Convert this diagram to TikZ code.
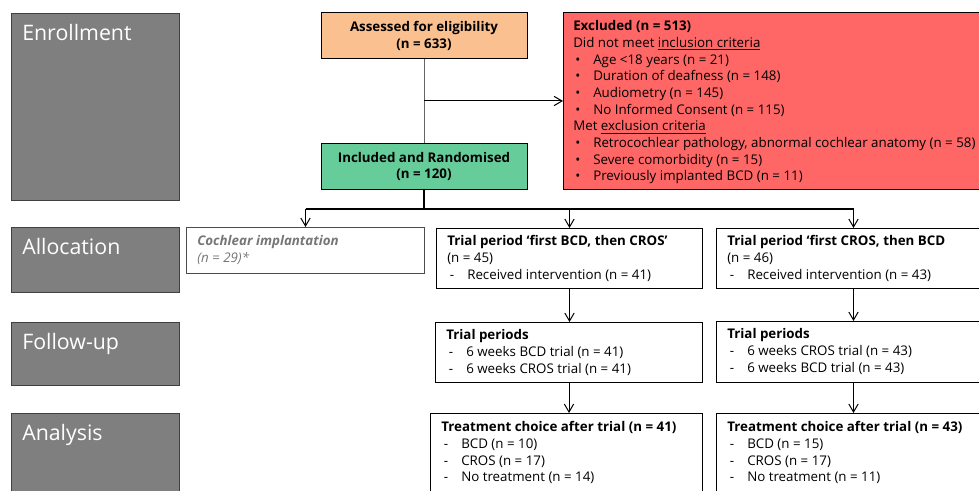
\documentclass[tikz,border=0pt]{standalone}
\usepackage{fontspec}
\setmainfont{Open Sans}
\usetikzlibrary{positioning, arrows.meta}
\definecolor{StageGrey}{RGB}{127,127,127}
\definecolor{AssessOrange}{RGB}{250,192,144}
\definecolor{InclGreen}{RGB}{102,204,153}
\definecolor{ExclRed}{RGB}{255,102,102}
\definecolor{CochGrey}{RGB}{118,118,118}
\newcommand{\bul}[1]{\makebox[15pt][l]{\hspace{1.5pt}\textbullet}#1}
\newcommand{\dsh}[1]{\makebox[15pt][l]{\hspace{2pt}-}#1}
\newcommand{\boxlines}[1]{\begin{tabular}[t]{@{}l@{}}#1\end{tabular}}

\begin{document}
\begin{tikzpicture}[x=0.75pt, y=-0.75pt, font=\fontsize{10}{12.5}\selectfont]
        \tikzstyle{stage} = [rectangle, draw=black!75, fill=StageGrey, anchor=north west,
          minimum width=126pt, inner sep=0pt]
        \tikzstyle{stagetext} = [anchor=base west, text=white, inner sep=0pt,
          font=\fontsize{16}{18}\selectfont]
        \tikzstyle{box} = [rectangle, draw=black, line width=0.75pt, anchor=north west, inner sep=0pt]
        \tikzstyle{boxtext} = [anchor=base west, inner sep=0pt]
        \tikzstyle{link} = [line width=0.75pt, -{Straight Barb[length=6pt, width=7pt]}]

        \useasboundingbox (0,0) rectangle (979,491);
        \clip (0,0) rectangle (979,491);

        % stage column
        \foreach \stagename/\ytop/\hgt [count=\i] in {Enrollment/13/140.25pt, Allocation/227/48.75pt,
            Follow-up/322/47.25pt, Analysis/413/67.5pt} {
          \node[stage, minimum height=\hgt] (stage\i) at (11,\ytop) {};
          \node[stagetext] (stagelabel\i) at ([shift={(11,28)}]stage\i.north west) {\stagename};
        }

        % enrollment
        \node[box, anchor=center, fill=AssessOrange, minimum width=154.5pt, minimum height=34.5pt,
          align=center, font=\fontsize{10}{12.5}\selectfont\bfseries] (assess) at (424,36)
          {Assessed for eligibility\\(n = 633)};
        \node[box, anchor=center, fill=InclGreen, minimum width=154.5pt, minimum height=34.5pt,
          align=center, font=\fontsize{10}{12.5}\selectfont\bfseries] (incl) at (424,166.5)
          {Included and Randomised\\(n = 120)};
        \node[box, fill=ExclRed, minimum width=322.5pt, minimum height=132.75pt] (excl) at (563,12) {};
        \node[boxtext] (excltxt) at ([shift={(10,19)}]excl.north west)
          {\boxlines{\textbf{Excluded (n = 513)}\\
           Did not meet \underline{inclusion criteria}\\
           \bul{Age <18 years (n = 21)}\\
           \bul{Duration of deafness (n = 148)}\\
           \bul{Audiometry (n = 145)}\\
           \bul{No Informed Consent (n = 115)}\\
           Met \underline{exclusion criteria}\\
           \bul{Retrocochlear pathology, abnormal cochlear anatomy (n = 58)}\\
           \bul{Severe comorbidity (n = 15)}\\
           \bul{Previously implanted BCD (n = 11)}}};

        % allocation
        \node[box, draw=black!70, minimum width=178.5pt, minimum height=34.5pt] (cochl) at (186,227) {};
        \node[boxtext, text=CochGrey] (cochltxt) at ([shift={(11,19)}]cochl.north west)
          {\boxlines{\textbf{\textit{Cochlear implantation}}\\\textit{(n = 29)*}}};
        \node[box, minimum width=199.5pt, minimum height=45pt] (trialA) at (436,228) {};
        \node[boxtext] (trialAtxt) at ([shift={(11,18)}]trialA.north west)
          {\boxlines{\textbf{Trial period ‘first BCD, then CROS’}\\(n = 45)\\\dsh{Received intervention (n = 41)}}};
        \node[box, minimum width=205.5pt, minimum height=45pt] (trialB) at (716,228) {};
        \node[boxtext] (trialBtxt) at ([shift={(11,18)}]trialB.north west)
          {\boxlines{\textbf{Trial period ‘first CROS, then BCD}\\(n = 46)\\\dsh{Received intervention (n = 43)}}};

        % follow-up
        \node[box, minimum width=200.25pt, minimum height=45pt] (perA) at (435,322) {};
        \node[boxtext] (perAtxt) at ([shift={(11,18)}]perA.north west)
          {\boxlines{\textbf{Trial periods}\\\dsh{6 weeks BCD trial (n = 41)}\\\dsh{6 weeks CROS trial (n = 41)}}};
        \node[box, minimum width=205.5pt, minimum height=45.75pt] (perB) at (716,321) {};
        \node[boxtext] (perBtxt) at ([shift={(11,18)}]perB.north west)
          {\boxlines{\textbf{Trial periods}\\\dsh{6 weeks CROS trial (n = 43)}\\\dsh{6 weeks BCD trial (n = 43)}}};

        % analysis
        \node[box, minimum width=204pt, minimum height=67.5pt] (treatA) at (430,413) {};
        \node[boxtext] (treatAtxt) at ([shift={(11,19)}]treatA.north west)
          {\boxlines{\textbf{Treatment choice after trial (n = 41)}\\\dsh{BCD (n = 10)}\\\dsh{CROS (n = 17)}\\\dsh{No treatment (n = 14)}}};
        \node[box, minimum width=205.5pt, minimum height=67.5pt] (treatB) at (716,413) {};
        \node[boxtext] (treatBtxt) at ([shift={(11,19)}]treatB.north west)
          {\boxlines{\textbf{Treatment choice after trial (n = 43)}\\\dsh{BCD (n = 15)}\\\dsh{CROS (n = 17)}\\\dsh{No treatment (n = 11)}}};

        % connectors
        \draw[black!60, line width=0.75pt] (assess.south) -- (incl.north);
        \draw[link] (assess.south |- excl.west) -- (excl.west);
        \coordinate (split) at (424,209);
        \draw[line width=1.3pt] (incl.south) -- (split);
        \draw[line width=1.1pt] (cochl.north |- split) -- (trialB.north |- split);
        \draw[link] (cochl.north |- split) -- (cochl.north);
        \draw[link] (trialA.north |- split) -- (trialA.north);
        \draw[link] (trialB.north |- split) -- (trialB.north);
        \draw[link] (trialA.south) -- (trialA.south |- perA.north);
        \draw[link] (trialB.south) -- (trialB.south |- perB.north);
        \draw[link] (perA.south) -- (perA.south |- treatA.north);
        \draw[link] (perB.south) -- (perB.south |- treatB.north);
      \end{tikzpicture}
\end{document}
